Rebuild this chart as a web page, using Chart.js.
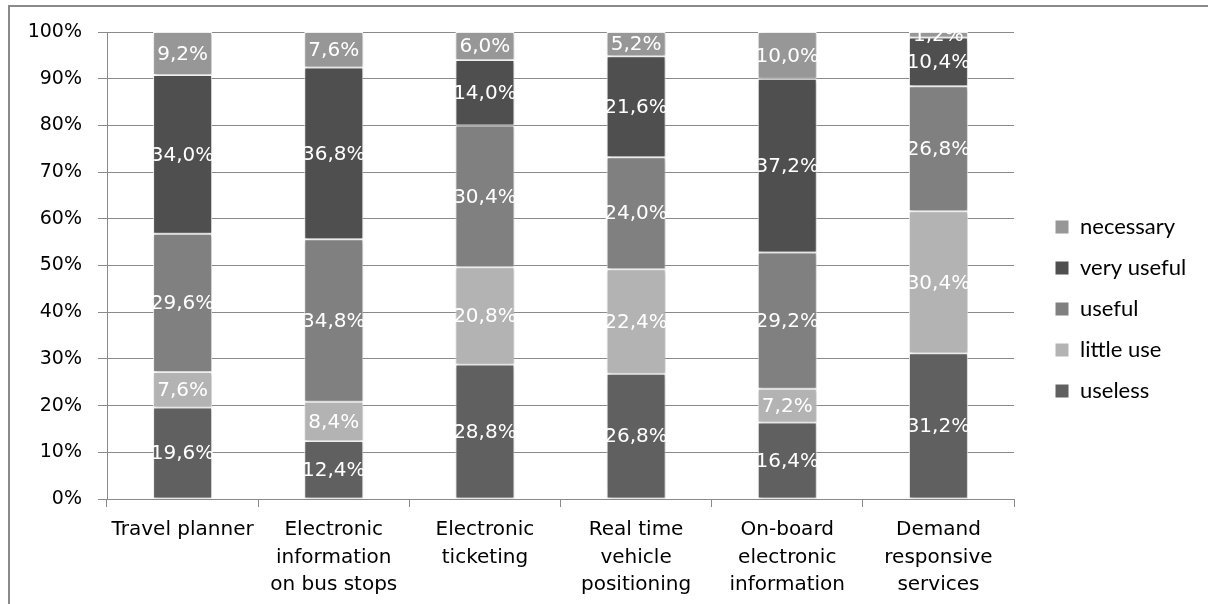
<!DOCTYPE html>
<html>
<head>
<meta charset="utf-8">
<script src="https://cdn.jsdelivr.net/npm/chart.js@4.4.1/dist/chart.umd.min.js"></script>
<style>
  html, body { margin: 0; padding: 0; background: #fff; }
  #frame { position: absolute; left: 8px; top: 5px; width: 1200px; height: 599px;
           border-left: 2px solid #8a8a8a; border-top: 2px solid #8a8a8a; box-sizing: border-box; }
  #wrap { position: absolute; left: 0; top: 0; width: 1208px; height: 604px; }
</style>
</head>
<body>
<div id="frame"></div>
<div id="wrap"><canvas id="c" width="1208" height="604"></canvas></div>
<script>
const categories = [
  ["Travel planner"],
  ["Electronic", "information", "on bus stops"],
  ["Electronic", "ticketing"],
  ["Real time", "vehicle", "positioning"],
  ["On-board", "electronic", "information"],
  ["Demand", "responsive", "services"]
];
const useless   = [19.6, 12.4, 28.8, 26.8, 16.4, 31.2];
const littleUse = [7.6, 8.4, 20.8, 22.4, 7.2, 30.4];
const useful    = [29.6, 34.8, 30.4, 24.0, 29.2, 26.8];
const veryUseful= [34.0, 36.8, 14.0, 21.6, 37.2, 10.4];
const necessary = [9.2, 7.6, 6.0, 5.2, 10.0, 1.2];
const yTicks = [0, 10, 20, 30, 40, 50, 60, 70, 80, 90, 100];

const seriesNames = ["useless", "little use", "useful", "very useful", "necessary"];
const seriesColors = ["#606060", "#b3b3b3", "#808080", "#4f4f4f", "#979797"];
const seriesData = [useless, littleUse, useful, veryUseful, necessary];

const FONT = "'DejaVu Sans', Verdana, sans-serif";

const shadowPlugin = {
  id: 'barShadow',
  beforeDatasetsDraw(chart) {
    const ctx = chart.ctx;
    ctx.save();
    ctx.shadowColor = 'rgba(0,0,0,0.28)';
    ctx.shadowBlur = 4;
    ctx.shadowOffsetX = 1;
    ctx.shadowOffsetY = 1;
  },
  afterDatasetsDraw(chart) {
    chart.ctx.restore();
  }
};

const labelPlugin = {
  id: 'valueLabels',
  afterDatasetsDraw(chart) {
    const ctx = chart.ctx;
    ctx.save();
    ctx.shadowColor = 'rgba(0,0,0,0)';
    ctx.font = "20px " + FONT;
    ctx.fillStyle = "#ffffff";
    ctx.textAlign = "center";
    ctx.textBaseline = "middle";
    chart.data.datasets.forEach((ds, i) => {
      const meta = chart.getDatasetMeta(i);
      meta.data.forEach((bar, j) => {
        const v = ds.data[j];
        const y = (bar.y + bar.base) / 2;
        ctx.fillText(v.toFixed(1).replace('.', ',') + '%', bar.x, y + 1);
      });
    });
    ctx.restore();
  }
};

const legendPlugin = {
  id: 'legendPlace',
  beforeLayout(chart) {
    const lg = chart.legend;
    if (lg && !lg._patched) {
      const f = lg.fit.bind(lg);
      lg.fit = function () { f(); this.width = 194; };
      lg._patched = true;
    }
  },
  afterLayout(chart) {
    const lg = chart.legend;
    if (!lg) return;
    const pad = lg.options.labels.padding;
    const w = lg.right - lg.left;
    lg.left = 1055 - pad;
    lg.right = lg.left + w;
    lg.top = 14;
    lg.bottom = 604;
  }
};

new Chart(document.getElementById('c'), {
  type: 'bar',
  data: {
    labels: categories,
    datasets: seriesData.map((d, i) => ({
      label: seriesNames[i],
      data: d,
      backgroundColor: seriesColors[i],
      borderColor: "#ffffff",
      borderWidth: 1,
      borderSkipped: false,
      categoryPercentage: 1.0,
      barPercentage: 0.39
    }))
  },
  options: {
    responsive: false,
    animation: false,
    layout: { padding: { top: 32, left: 0, right: 0, bottom: 0 } },
    plugins: {
      tooltip: { enabled: false },
      legend: {
        position: 'right',
        reverse: true,
        labels: {
          font: { family: "Lato, 'Open Sans', sans-serif", size: 22 },
          color: "#000",
          boxWidth: 14,
          boxHeight: 14,
          padding: 19
        }
      }
    },
    scales: {
      x: {
        stacked: true,
        afterFit(s) { s.height = 105; },
        grid: { offset: true, drawOnChartArea: false, color: "#8a8a8a", tickLength: 8, lineWidth: 1 },
        border: { color: "#8a8a8a" },
        ticks: { color: "#000", font: { family: FONT, size: 20, lineHeight: 1.38 }, padding: 9, maxRotation: 0, autoSkip: false }
      },
      y: {
        stacked: true,
        min: 0, max: 100,
        afterFit(s) { s.width = 107; },
        afterBuildTicks(s) { s.ticks = yTicks.map(v => ({ value: v })); },
        grid: { color: "#8a8a8a", tickLength: 9, lineWidth: 1 },
        border: { color: "#8a8a8a" },
        ticks: { color: "#000", font: { family: FONT, size: 19 }, padding: 16, callback: v => v + '%' }
      }
    }
  },
  plugins: [shadowPlugin, labelPlugin, legendPlugin]
});
</script>
</body>
</html>
